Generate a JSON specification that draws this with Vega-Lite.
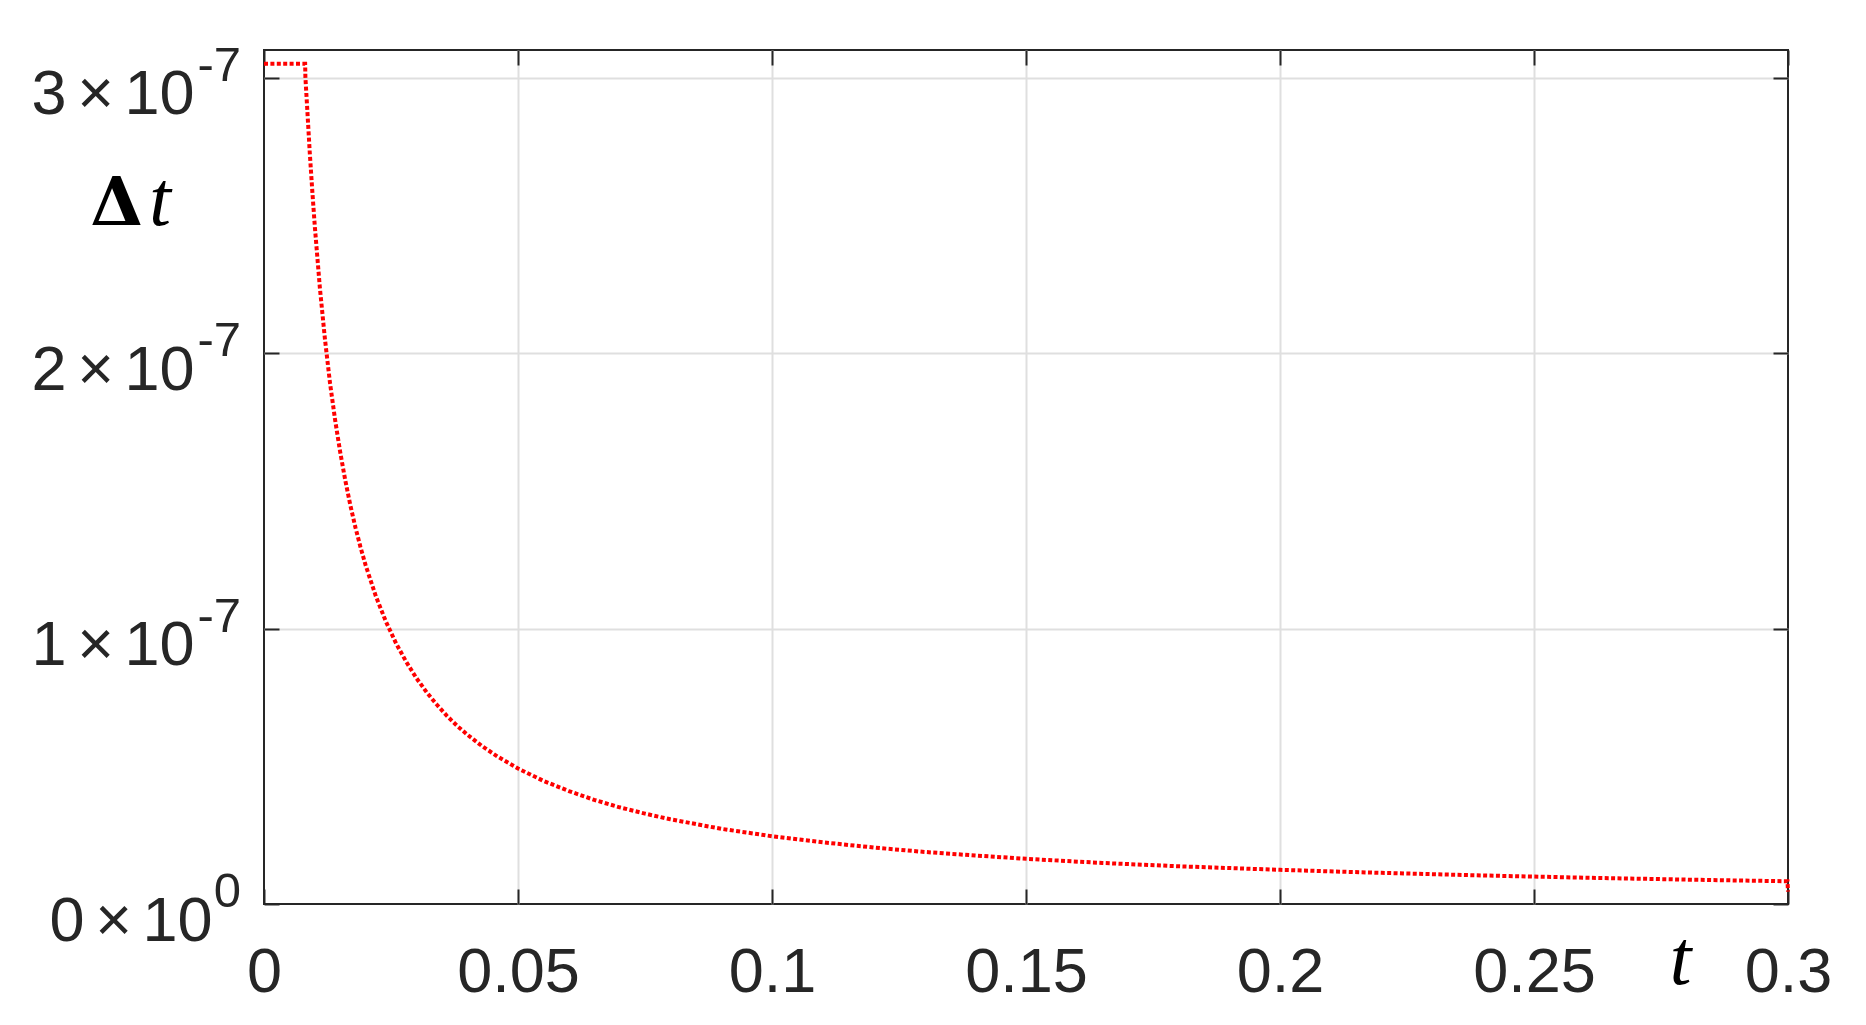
{
  "$schema": "https://vega.github.io/schema/vega-lite/v6.json",
  "width": 1524,
  "height": 854,
  "autosize": {"type": "none"},
  "padding": {"left": 264, "top": 50, "right": 78, "bottom": 121},
  "background": "white",
  "config": {"view": {"stroke": "#262626", "strokeWidth": 2}, "font": "Liberation Sans"},
  "datasets": {
    "series": [
      {"t": 0, "dt": 3.05e-7},
      {"t": 0.0081, "dt": 3.05e-7},
      {"t": 0.00815, "dt": 3.0e-7},
      {"t": 0.0085, "dt": 2.89e-7},
      {"t": 0.009, "dt": 2.73e-7},
      {"t": 0.0095, "dt": 2.59e-7},
      {"t": 0.010, "dt": 2.46e-7},
      {"t": 0.011, "dt": 2.236e-7},
      {"t": 0.012, "dt": 2.05e-7},
      {"t": 0.013, "dt": 1.89e-7},
      {"t": 0.014, "dt": 1.757e-7},
      {"t": 0.015, "dt": 1.64e-7},
      {"t": 0.016, "dt": 1.538e-7},
      {"t": 0.017, "dt": 1.447e-7},
      {"t": 0.018, "dt": 1.367e-7},
      {"t": 0.019, "dt": 1.295e-7},
      {"t": 0.020, "dt": 1.23e-7},
      {"t": 0.022, "dt": 1.118e-7},
      {"t": 0.024, "dt": 1.025e-7},
      {"t": 0.026, "dt": 0.946e-7},
      {"t": 0.028, "dt": 0.879e-7},
      {"t": 0.030, "dt": 0.82e-7},
      {"t": 0.032, "dt": 0.769e-7},
      {"t": 0.034, "dt": 0.724e-7},
      {"t": 0.036, "dt": 0.683e-7},
      {"t": 0.038, "dt": 0.647e-7},
      {"t": 0.040, "dt": 0.615e-7},
      {"t": 0.043, "dt": 0.572e-7},
      {"t": 0.046, "dt": 0.535e-7},
      {"t": 0.050, "dt": 0.492e-7},
      {"t": 0.055, "dt": 0.447e-7},
      {"t": 0.060, "dt": 0.41e-7},
      {"t": 0.065, "dt": 0.378e-7},
      {"t": 0.070, "dt": 0.351e-7},
      {"t": 0.075, "dt": 0.328e-7},
      {"t": 0.080, "dt": 0.3075e-7},
      {"t": 0.090, "dt": 0.273e-7},
      {"t": 0.100, "dt": 0.246e-7},
      {"t": 0.110, "dt": 0.224e-7},
      {"t": 0.120, "dt": 0.205e-7},
      {"t": 0.130, "dt": 0.189e-7},
      {"t": 0.140, "dt": 0.176e-7},
      {"t": 0.150, "dt": 0.164e-7},
      {"t": 0.165, "dt": 0.149e-7},
      {"t": 0.180, "dt": 0.137e-7},
      {"t": 0.200, "dt": 0.124e-7},
      {"t": 0.220, "dt": 0.113e-7},
      {"t": 0.240, "dt": 0.1035e-7},
      {"t": 0.260, "dt": 0.0955e-7},
      {"t": 0.280, "dt": 0.0885e-7},
      {"t": 0.2999, "dt": 0.0825e-7},
      {"t": 0.3, "dt": 0.045e-7}
    ],
    "ylabels": [
      {"t": 0, "v": 0, "e": "0"},
      {"t": 0, "v": 1e-7, "e": "-7"},
      {"t": 0, "v": 2e-7, "e": "-7"},
      {"t": 0, "v": 3e-7, "e": "-7"}
    ],
    "tlabel": [{"t": 0, "v": 2.465e-7, "s": "t"}]
  },
  "layer": [
    {
      "data": {"name": "series"},
      "mark": {"type": "line", "color": "#ff0000", "strokeWidth": 4, "strokeDash": [4, 2.4], "strokeCap": "butt", "clip": false},
      "encoding": {
        "x": {
          "field": "t", "type": "quantitative",
          "scale": {"domain": [0, 0.3], "nice": false, "zero": false},
          "axis": {
            "orient": "bottom",
            "values": [0, 0.05, 0.1, 0.15, 0.2, 0.25, 0.3],
            "labelExpr": "format(datum.value, '.2~f')",
            "labelFont": "Liberation Sans", "labelFontSize": 63, "labelColor": "#262626",
            "labelBaseline": "alphabetic", "labelPadding": 102, "labelFlush": false, "labelOverlap": false, "labelBound": false,
            "domain": false, "ticks": true, "tickSize": -15, "tickColor": "#262626", "tickWidth": 2,
            "grid": true, "gridWidth": 2,
            "gridColor": {"condition": {"test": "datum.value == 0 || datum.value >= 0.3", "value": "transparent"}, "value": "#dfdfdf"},
            "title": "t", "titleFont": "Liberation Serif", "titleFontStyle": "italic", "titleFontWeight": "normal",
            "titleFontSize": 78, "titleColor": "#000000", "titleX": 1416, "titleY": 79,
            "titleAlign": "center", "titleBaseline": "alphabetic"
          }
        },
        "y": {
          "field": "dt", "type": "quantitative",
          "scale": {"domain": [0, 3.1e-7], "nice": false, "zero": false},
          "axis": {
            "orient": "left",
            "values": [0, 1e-7, 2e-7, 3e-7],
            "labelExpr": "(datum.value == 0 ? '0' : format(datum.value * 1e7, '.0f')) + '\u2006×\u200610'",
            "labelFont": "Liberation Sans", "labelFontSize": 63, "labelColor": "#262626",
            "labelAlign": "right", "labelBaseline": "alphabetic", "labelOffset": 36,
            "labelPadding": {"condition": {"test": "datum.value == 0", "value": 67}, "value": 85},
            "labelOverlap": false, "labelBound": false, "labelFlush": false,
            "domain": false, "ticks": true, "tickSize": -15, "tickColor": "#262626", "tickWidth": 2,
            "grid": true, "gridWidth": 2,
            "gridColor": {"condition": {"test": "datum.value == 0", "value": "transparent"}, "value": "#dfdfdf"},
            "title": "Δ", "titleFont": "DejaVu Serif", "titleFontWeight": "bold", "titleFontSize": 68,
            "titleColor": "#000000", "titleAngle": 0, "titleX": -148, "titleY": 174,
            "titleAlign": "center", "titleBaseline": "alphabetic"
          }
        }
      }
    },
    {
      "data": {"name": "ylabels"},
      "mark": {"type": "text", "align": "right", "baseline": "alphabetic", "dx": -23, "dy": 3, "fontSize": 49, "font": "Liberation Sans", "color": "#262626"},
      "encoding": {
        "x": {
          "field": "t", "type": "quantitative",
          "scale": {"domain": [0, 0.3], "nice": false, "zero": false},
          "axis": {"orient": "top", "values": [0, 0.05, 0.1, 0.15, 0.2, 0.25, 0.3], "labels": false, "domain": false, "grid": false, "ticks": true, "tickSize": -15, "tickColor": "#262626", "tickWidth": 2, "title": null}
        },
        "y": {
          "field": "v", "type": "quantitative",
          "scale": {"domain": [0, 3.1e-7], "nice": false, "zero": false},
          "axis": {"orient": "right", "values": [0, 1e-7, 2e-7, 3e-7], "labels": false, "domain": false, "grid": false, "ticks": true, "tickSize": -15, "tickColor": "#262626", "tickWidth": 2, "title": null}
        },
        "text": {"field": "e"}
      }
    },
    {
      "data": {"name": "tlabel"},
      "mark": {"type": "text", "align": "center", "baseline": "alphabetic", "dx": -104, "fontSize": 78, "font": "Liberation Serif", "fontStyle": "italic", "color": "#000000"},
      "encoding": {
        "x": {"field": "t", "type": "quantitative", "axis": null},
        "y": {"field": "v", "type": "quantitative", "axis": null},
        "text": {"field": "s"}
      }
    }
  ],
  "resolve": {"axis": {"x": "independent", "y": "independent"}}
}
